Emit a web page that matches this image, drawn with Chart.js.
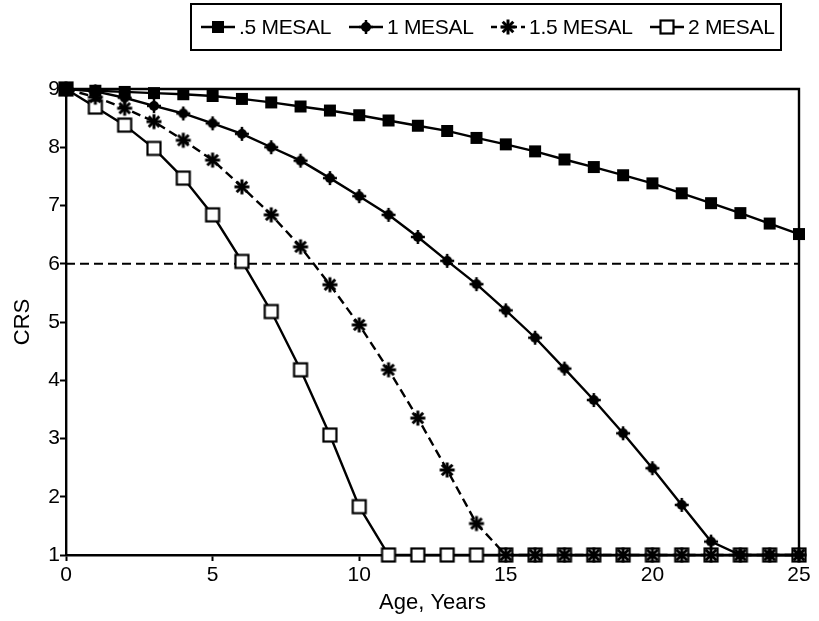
<!DOCTYPE html>
<html>
<head>
<meta charset="utf-8">
<script src="https://cdn.jsdelivr.net/npm/chart.js@4.4.1/dist/chart.umd.min.js"></script>
<style>
  html, body { margin: 0; padding: 0; background: #fff; }
  #wrap { position: relative; width: 819px; height: 621px; }
  #legend {
    position: absolute; left: 190px; top: 3px; width: 592px; height: 48px;
    box-sizing: border-box; border: 2px solid #000;
    font-family: "Liberation Sans", Arial, sans-serif; font-size: 21px; color: #000;
    letter-spacing: -0.3px;
  }
  .sym { position: absolute; top: 12px; }
  .txt { position: absolute; top: 10px; white-space: nowrap; line-height: 24px; }
</style>
</head>
<body>
<div id="wrap">
  <canvas id="chart" width="819" height="621"></canvas>
  <div id="legend"></div>
</div>
<script>
// Age of pavement, years
const years = [0, 1, 2, 3, 4, 5, 6, 7, 8, 9, 10, 11, 12, 13, 14, 15, 16, 17, 18, 19, 20, 21, 22, 23, 24, 25];

// Condition rating score (CRS) by traffic level
const crsHalfMesal = [9, 8.97, 8.95, 8.93, 8.91, 8.88, 8.83, 8.77, 8.7, 8.63, 8.55, 8.46, 8.37, 8.28, 8.16, 8.05, 7.93, 7.79, 7.66, 7.52, 7.38, 7.21, 7.04, 6.87, 6.69, 6.51];
const crsOneMesal = [9, 8.96, 8.85, 8.71, 8.58, 8.41, 8.23, 8.0, 7.77, 7.47, 7.16, 6.84, 6.46, 6.05, 5.65, 5.2, 4.73, 4.2, 3.66, 3.09, 2.49, 1.86, 1.23, 1, 1, 1];
const crsOneHalfMesal = [9, 8.86, 8.67, 8.44, 8.12, 7.78, 7.32, 6.84, 6.29, 5.64, 4.95, 4.18, 3.35, 2.46, 1.54, 1, 1, 1, 1, 1, 1, 1, 1, 1, 1, 1];
const crsTwoMesal = [9, 8.69, 8.38, 7.98, 7.47, 6.84, 6.04, 5.18, 4.18, 3.06, 1.83, 1, 1, 1, 1, 1, 1, 1, 1, 1, 1, 1, 1, 1, 1, 1];

const seriesNames = ['.5 MESAL', '1 MESAL', '1.5 MESAL', '2 MESAL'];

// Minimum acceptable CRS reference line
const thresholdYears = [0, 25];
const thresholdCRS = [6, 6];

const axisFont = { family: '"Liberation Sans", Arial, sans-serif', size: 21 };
const titleFont = { family: '"Liberation Sans", Arial, sans-serif', size: 22 };
const lineWidth = 2.4;

// --- marker glyphs -------------------------------------------------------
function makeCanvas(w, h, draw) {
  const c = document.createElement('canvas');
  c.width = w; c.height = h;
  const g = c.getContext('2d');
  g.strokeStyle = '#000'; g.fillStyle = '#000';
  draw(g, w / 2, h / 2);
  return c;
}
function drawFilledSquare(g, cx, cy) {
  g.fillRect(cx - 6, cy - 6, 12, 12);
}
function drawPlusDot(g, cx, cy) {
  g.beginPath();
  g.arc(cx, cy, 5, 0, Math.PI * 2);
  g.fill();
  g.lineWidth = 2.5;
  g.beginPath(); g.moveTo(cx - 7, cy); g.lineTo(cx + 7, cy); g.stroke();
  g.beginPath(); g.moveTo(cx, cy - 7); g.lineTo(cx, cy + 7); g.stroke();
}
function drawAsterisk(g, cx, cy) {
  g.lineWidth = 3;
  const r = 7.5;
  for (let k = 0; k < 4; k++) {
    const a = k * Math.PI / 4;
    g.beginPath();
    g.moveTo(cx - r * Math.cos(a), cy - r * Math.sin(a));
    g.lineTo(cx + r * Math.cos(a), cy + r * Math.sin(a));
    g.stroke();
  }
}
function drawOpenSquare(g, cx, cy) {
  g.fillStyle = '#fff';
  g.fillRect(cx - 6.5, cy - 6.5, 13, 13);
  g.lineWidth = 2.2;
  g.strokeRect(cx - 6.5, cy - 6.5, 13, 13);
}
const markerDrawers = [drawFilledSquare, drawPlusDot, drawAsterisk, drawOpenSquare];
const markers = markerDrawers.map(fn => makeCanvas(20, 20, fn));
const dashes = [[], [], [9, 5], []];

// --- legend --------------------------------------------------------------
const legendEl = document.getElementById('legend');
const symbolLeft = [8, 156, 298, 457];
const textLeft = [47, 195, 337, 496];
seriesNames.forEach((name, i) => {
  const sym = makeCanvas(36, 20, (g, cx, cy) => {
    g.lineWidth = lineWidth;
    g.setLineDash(dashes[i].length ? [6, 4] : []);
    g.beginPath(); g.moveTo(1, cy); g.lineTo(35, cy); g.stroke();
    g.setLineDash([]);
    markerDrawers[i](g, cx, cy);
  });
  sym.className = 'sym';
  sym.style.left = symbolLeft[i] + 'px';
  const label = document.createElement('span');
  label.className = 'txt';
  label.style.left = textLeft[i] + 'px';
  label.textContent = name;
  legendEl.appendChild(sym);
  legendEl.appendChild(label);
});

// --- chart ---------------------------------------------------------------
function seriesPoints(values) {
  return years.map((x, i) => ({ x, y: values[i] }));
}
const seriesValues = [crsHalfMesal, crsOneMesal, crsOneHalfMesal, crsTwoMesal];

const datasets = seriesValues.map((vals, i) => ({
  label: seriesNames[i],
  data: seriesPoints(vals),
  borderColor: '#000',
  borderWidth: lineWidth,
  borderDash: dashes[i],
  pointStyle: markers[i],
  pointRadius: 7,
  tension: 0,
  clip: false,
  order: i
}));
datasets.push({
  label: 'CRS 6',
  data: thresholdYears.map((x, i) => ({ x, y: thresholdCRS[i] })),
  borderColor: '#000',
  borderWidth: 2.2,
  borderDash: [9, 5],
  pointRadius: 0,
  clip: false,
  order: 10
});

// Box frame around the plotting area
const frame = {
  id: 'frame',
  beforeDatasetsDraw(chart) {
    const { ctx, chartArea: a } = chart;
    ctx.save();
    ctx.strokeStyle = '#000';
    ctx.lineWidth = 2.4;
    ctx.beginPath();
    ctx.moveTo(a.left, a.top); ctx.lineTo(a.right, a.top); ctx.lineTo(a.right, a.bottom);
    ctx.stroke();
    ctx.restore();
  }
};

new Chart(document.getElementById('chart'), {
  type: 'line',
  data: { datasets },
  options: {
    responsive: false,
    animation: false,
    layout: { padding: { top: 89, right: 20, left: 0, bottom: 0 } },
    plugins: { legend: { display: false }, tooltip: { enabled: false } },
    scales: {
      x: {
        type: 'linear', min: 0, max: 25,
        ticks: { stepSize: 5, color: '#000', font: axisFont, padding: 2, maxRotation: 0 },
        grid: { drawOnChartArea: false, tickColor: '#000', tickLength: 6, tickWidth: 2 },
        border: { color: '#000', width: 2.4 },
        title: { display: true, text: 'Age, Years', color: '#000', font: titleFont, padding: { top: 0, bottom: 5 } },
        afterFit(s) { s.height = 66; }
      },
      y: {
        type: 'linear', min: 1, max: 9,
        ticks: { stepSize: 1, color: '#000', font: axisFont, padding: 0 },
        grid: { drawOnChartArea: false, tickColor: '#000', tickLength: 6, tickWidth: 2 },
        border: { color: '#000', width: 2.4 },
        title: { display: true, text: 'CRS', color: '#000', font: titleFont, padding: { top: 10, bottom: 0 } },
        afterFit(s) { s.width = 66; }
      }
    }
  },
  plugins: [frame]
});
</script>
</body>
</html>
